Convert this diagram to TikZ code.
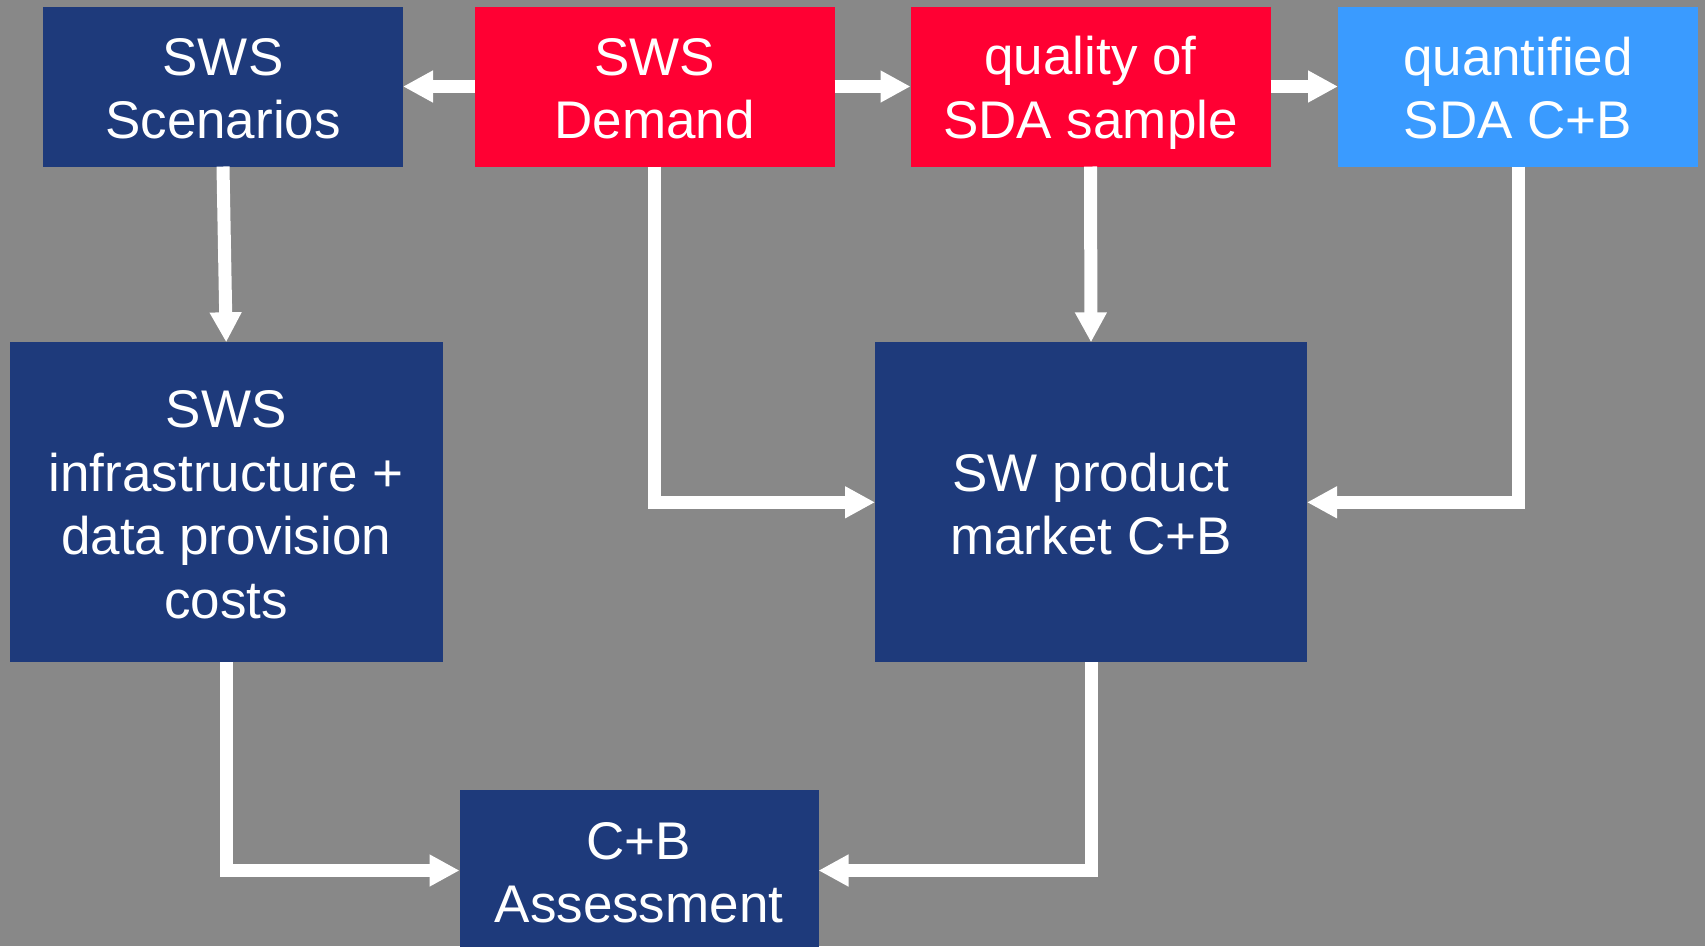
\documentclass[tikz,border=0pt]{standalone}
\usepackage{fontspec}
\setmainfont{Liberation Sans}
\usetikzlibrary{arrows.meta}
\definecolor{bggray}{HTML}{888888}
\definecolor{navy}{HTML}{1E3A7B}
\definecolor{hotred}{HTML}{FF0033}
\definecolor{skyblue}{HTML}{3A9BFF}
\newcommand\lnst{\rule[-10pt]{0pt}{61pt}}
\tikzset{
  box/.style={rectangle, inner sep=0pt, outer sep=0pt, text=white, align=center,
    font=\fontsize{53}{63.5}\selectfont},
  topbox/.style={box, minimum width=360pt, minimum height=160pt},
  bigbox/.style={box, minimum width=433pt, minimum height=320pt},
  conn/.style={draw=white, line width=13pt, line join=miter,
    -{Triangle[length=30pt,width=30pt]}}
}
\begin{document}
\begin{tikzpicture}[x=1pt,y=-1pt]
\useasboundingbox (0,0) rectangle (1705,946);
\clip (0,0) rectangle (1705,946);
\fill[bggray] (0,0) rectangle (1705,946);
\node[topbox, fill=navy] (scen) at (223,86.5) {\lnst SWS\\\lnst Scenarios};
\node[topbox, fill=hotred] (dem) at (654.5,86.5) {\lnst SWS\\\lnst Demand};
\node[topbox, fill=hotred] (qual) at (1090.5,86.5) {\lnst quality of\\\lnst SDA sample};
\node[topbox, fill=skyblue] (quant) at (1518,86.5) {\lnst quantified\\\lnst SDA C+B};
\node[bigbox, fill=navy] (infra) at (226.2,502.3) {\lnst SWS\\\lnst infrastructure +\\\lnst data provision\\\lnst costs};
\node[bigbox, fill=navy, minimum width=432pt] (swp) at (1091,502.3) {\lnst SW product\\\lnst market C+B};
\node[topbox, fill=navy, minimum width=359pt, minimum height=161pt] (cba) at (639,870.5) {\lnst C+B\\\lnst Assessment};
\draw[conn] (dem.west) -- (scen.east);
\draw[conn] (dem.east) -- (qual.west);
\draw[conn] (qual.east) -- (quant.west);
\draw[conn] (scen.south) -- (infra.north);
\draw[conn] (qual.south) -- (swp.north);
\draw[conn] (dem.south) |- (swp.west);
\draw[conn] (quant.south) |- (swp.east);
\draw[conn] (infra.south) |- (cba.west);
\draw[conn] (swp.south) |- (cba.east);
\end{tikzpicture}
\end{document}
